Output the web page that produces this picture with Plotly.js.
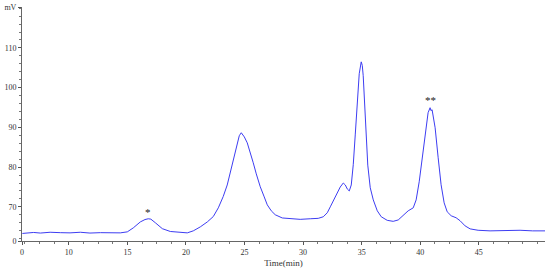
<!DOCTYPE html>
<html>
<head>
<meta charset="utf-8">
<script src="https://cdn.plot.ly/plotly-3.0.1.min.js"></script>
<style>
  html, body { margin: 0; padding: 0; background: #fff; }
  #plot { width: 550px; height: 272px; }
</style>
</head>
<body>
<div id="plot"></div>
<script>
// Cromatograma: tiempo (min) vs señal (mV)
const timeMin = [
  6.03, 7.0, 7.57, 8.4, 9.27, 10.1, 10.98, 11.8, 12.69, 13.5, 14.39, 14.99,
  15.5, 16.1, 16.5, 16.78, 17.0, 17.38, 17.98, 18.66, 19.51, 20.11, 20.62,
  21.22, 21.82, 22.33, 22.76, 23.18, 23.52, 23.78, 24.04, 24.29, 24.55, 24.72,
  24.85, 24.98, 25.23, 25.49, 25.74, 26.0, 26.34, 26.68, 26.94, 27.28, 27.62,
  28.22, 28.9, 29.75, 30.61, 31.29, 31.72, 32.06, 32.32, 32.66, 32.91, 33.17,
  33.43, 33.6, 33.77, 33.94, 34.11, 34.28, 34.45, 34.62, 34.79, 34.96, 35.05,
  35.13, 35.25, 35.38, 35.52, 35.73, 35.99, 36.33, 36.67, 37.18, 37.69, 38.12,
  38.54, 38.97, 39.4, 39.65, 39.91, 40.16, 40.42, 40.67, 40.84, 40.92, 41.01,
  41.27, 41.53, 41.78, 42.04, 42.3, 42.64, 43.06, 43.4, 43.83, 44.26, 44.94,
  45.96, 47.24, 48.52, 49.6, 50.65
];
const signalMV = [
  63.3, 63.55, 63.4, 63.6, 63.5, 63.45, 63.6, 63.4, 63.5, 63.4, 63.45, 63.7,
  64.7, 66.2, 66.8, 67.0, 66.9, 66.0, 64.5, 63.8, 63.6, 63.45, 63.95,
  64.95, 66.2, 67.55, 69.75, 72.6, 75.5, 78.55, 81.8, 85.1, 87.9, 88.65,
  88.2, 87.6, 86.1, 83.85, 81.1, 78.3, 75.05, 72.5, 70.5, 69.0, 68.0,
  67.2, 66.98, 66.85, 67.0, 67.1, 67.5, 68.5, 70.0, 72.0, 73.5, 75.0,
  76.0, 75.5, 74.5, 74.0, 75.5, 80.6, 88.1, 96.95, 103.5, 106.5, 105.6,
  103.0, 97.0, 88.0, 80.5, 74.8, 71.75, 69.0, 67.5, 66.6, 66.35, 66.7,
  67.85, 69.0, 69.75, 71.75, 76.3, 82.35, 88.9, 93.7, 94.95, 94.2, 94.45,
  89.9, 82.35, 75.55, 71.0, 68.75, 67.75, 67.25, 66.5, 65.2, 64.45, 64.1,
  63.95, 64.1, 64.1, 63.95, 63.95
];

const xTickVals = [6.0, 10, 15, 20, 25, 30, 35, 40, 45];
const xTickText = ['0', '10', '15', '20', '25', '30', '35', '40', '45'];
const yTickVals = [61.4, 70, 80, 90, 100, 110, 120.3];
const yTickText = ['0', '70', '80', '90', '100', '110', 'mV'];

// Marcas de picos
const markX = [16.78, 40.84];
const markY = [68.6, 97.0];
const markText = ['*', '**'];

const serif = '"Liberation Serif", "DejaVu Serif", serif';

const trace = {
  x: timeMin, y: signalMV,
  type: 'scatter', mode: 'lines',
  line: { color: '#3d3df2', width: 1 },
  hoverinfo: 'skip'
};

const annotations = markX.map((x, i) => ({
  x, y: markY[i], text: markText[i], showarrow: false,
  font: { family: serif, size: 11, color: '#222' }
}));

Plotly.newPlot('plot', [trace], {
  width: 550, height: 272,
  margin: { l: 22, r: 5, t: 7, b: 31 },
  paper_bgcolor: '#fff', plot_bgcolor: '#fff',
  showlegend: false,
  font: { family: serif, size: 8, color: '#333' },
  xaxis: {
    range: [6.0, 50.65],
    tickvals: xTickVals, ticktext: xTickText,
    ticks: 'outside', ticklen: 3, tickcolor: '#555', tickwidth: 1,
    minor: { dtick: 1.25, ticks: 'outside', ticklen: 2, tickcolor: '#777', showgrid: false },
    showline: true, linecolor: '#666', linewidth: 1,
    showgrid: false, zeroline: false,
    title: { text: 'Time(min)', font: { family: serif, size: 9, color: '#333' }, standoff: 4 }
  },
  yaxis: {
    range: [61.4, 120.3],
    tickvals: yTickVals, ticktext: yTickText,
    ticks: 'outside', ticklen: 3, tickcolor: '#555', tickwidth: 1,
    minor: { dtick: 2, ticks: 'outside', ticklen: 2, tickcolor: '#777', showgrid: false },
    showline: true, linecolor: '#666', linewidth: 1,
    showgrid: false, zeroline: false
  },
  annotations
}, { displayModeBar: false, staticPlot: true });
</script>
</body>
</html>
